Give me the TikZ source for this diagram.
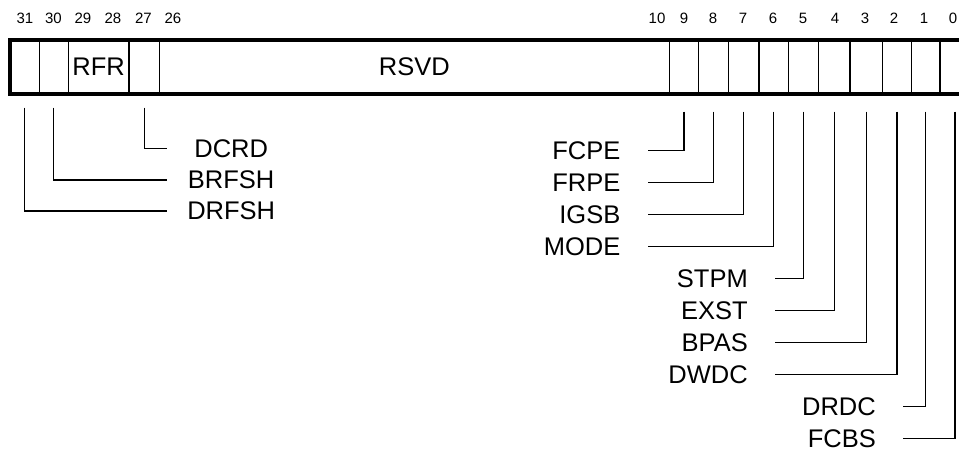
\documentclass[tikz,border=0pt]{standalone}
\usepackage{fontspec}
\setmainfont{Liberation Sans}
\usepackage{xcolor}
\definecolor{regInk}{HTML}{000000}
\tikzset{
    reg/cell/.style={
        rectangle, draw=regInk, line width=1.2pt,
        inner sep=0pt, outer sep=0pt, minimum height=53.7pt,
        font=\fontsize{25.5}{28}\selectfont, text=regInk
    },
    reg/frame/.style={
        draw=regInk, line width=4pt
    },
    reg/bit number/.style={
        font=\fontsize{15}{16}\selectfont, text=regInk, inner sep=0pt,
        anchor=base
    },
    reg/leader/.style={
        draw=regInk, line width=1.2pt
    },
    reg/left tag/.style={
        anchor=west, text width=128pt, align=center, inner sep=0pt,
        font=\fontsize{25.5}{28}\selectfont, text=regInk
    },
    reg/right tag/.style={
        anchor=east, inner xsep=27pt, inner ysep=0pt,
        font=\fontsize{25.5}{28}\selectfont, text=regInk
    }
}
\begin{document}
\begin{tikzpicture}[x=1pt, y=-1pt]
    \useasboundingbox (0,0) rectangle (959,450);

    % register fields
    \foreach \name/\lo/\hi/\field in {31/10/39.3/{}, 30/39.3/68.3/{},
        rfr/68.3/129/RFR, 27/129/159.3/{}, rsvd/159.3/669.3/RSVD,
        9/669.3/698.7/{}, 8/698.7/728.7/{}, 7/728.7/759/{},
        6/759/788.3/{}, 5/788.3/818.7/{}, 4/818.7/850/{},
        3/850/882.3/{}, 2/882.3/911.7/{}, 1/911.7/940/{}, 0/940/970/{}}
        \node[reg/cell, minimum width={\hi-\lo}] (b\name)
            at ({(\lo+\hi)/2},66.85) {\field};
    \draw[reg/frame] (b0.north east) -- (b31.north west)
        -- (b31.south west) -- (b0.south east);

    \foreach \bit/\x in {31/25, 30/53.5, 29/83, 28/113, 27/143.5, 26/173,
        10/657, 9/684, 8/713, 7/743, 6/773, 5/803, 4/835, 3/865,
        2/894, 1/924, 0/953}
        \node[reg/bit number] (n\bit) at (\x,23.5) {\bit};

    % field names
    \node[reg/left tag] (dcrd) at (167,148.5) {DCRD};
    \node[reg/left tag] (brfsh) at (167,180) {BRFSH};
    \node[reg/left tag] (drfsh) at (167,211) {DRFSH};

    \node[reg/right tag] (fcpe) at (647.5,150.5) {FCPE};
    \node[reg/right tag] (frpe) at (647.5,182.5) {FRPE};
    \node[reg/right tag] (igsb) at (647.5,214.5) {IGSB};
    \node[reg/right tag] (mode) at (647.5,246.5) {MODE};
    \node[reg/right tag] (stpm) at (775,278.5) {STPM};
    \node[reg/right tag] (exst) at (775,310.5) {EXST};
    \node[reg/right tag] (bpas) at (775,342.5) {BPAS};
    \node[reg/right tag] (dwdc) at (775,374.5) {DWDC};
    \node[reg/right tag] (drdc) at (903,406.5) {DRDC};
    \node[reg/right tag] (fcbs) at (903,438.5) {FCBS};

    \draw[reg/leader] ([yshift=-14pt]b27.south) |- (dcrd.west);
    \draw[reg/leader] ([yshift=-14pt]b30.south) |- (brfsh.west);
    \draw[reg/leader] ([yshift=-14pt]b31.south) |- (drfsh.west);
    \draw[reg/leader] ([yshift=-18pt]b9.south) |- (fcpe.east);
    \draw[reg/leader] ([yshift=-18pt]b8.south) |- (frpe.east);
    \draw[reg/leader] ([yshift=-18pt]b7.south) |- (igsb.east);
    \draw[reg/leader] ([yshift=-18pt]b6.south) |- (mode.east);
    \draw[reg/leader] ([yshift=-18pt]b5.south) |- (stpm.east);
    \draw[reg/leader] ([yshift=-18pt]b4.south) |- (exst.east);
    \draw[reg/leader] ([yshift=-18pt]b3.south) |- (bpas.east);
    \draw[reg/leader] ([yshift=-18pt]b2.south) |- (dwdc.east);
    \draw[reg/leader] ([yshift=-18pt]b1.south) |- (drdc.east);
    \draw[reg/leader] ([yshift=-18pt]b0.south) |- (fcbs.east);
\end{tikzpicture}
\end{document}
